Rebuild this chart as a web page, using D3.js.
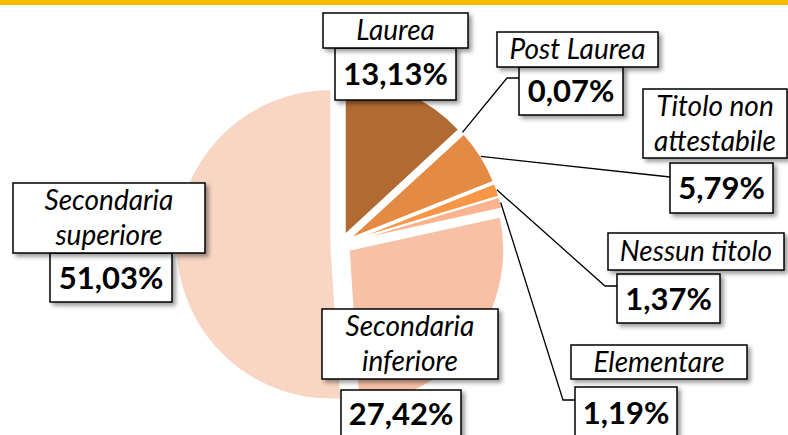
<!DOCTYPE html>
<html>
<head>
<meta charset="utf-8">
<script src="https://cdn.jsdelivr.net/npm/d3@7"></script>
<style>
  body { margin: 0; background: #fff; }
  svg { display: block; font-family: Lato, "Open Sans", sans-serif; }
</style>
</head>
<body>
<div id="chart"></div>
<script>
// data
var categories = ["Laurea", "Post Laurea", "Titolo non attestabile", "Nessun titolo",
                  "Elementare", "Secondaria inferiore", "Secondaria superiore"];
var values = [13.13, 0.07, 5.79, 1.37, 1.19, 27.42, 51.03];
var labelLines = [["Laurea"], ["Post Laurea"], ["Titolo non", "attestabile"], ["Nessun titolo"],
                  ["Elementare"], ["Secondaria", "inferiore"], ["Secondaria", "superiore"]];

var palette = ["#B06A32", "#C8783A", "#E38A44", "#F79646", "#F9B48F", "#F8C1A6", "#F9D5C3"];

// label layout: [x0, y0, x1, y1] boxes and leader waypoints
var labelLayout = [
  {name: [323, 13, 468, 48],  pct: [335, 48, 456, 100]},
  {name: [497, 32, 658, 67],  pct: [519, 67, 623, 115], leader: [[507, 78], [519, 78]]},
  {name: [643, 89, 787, 158], pct: [670, 163, 773, 213], leader: [[670, 177]]},
  {name: [608, 233, 784, 270], pct: [617, 274, 720, 323], leader: [[605, 286], [617, 286]]},
  {name: [571, 345, 747, 379], pct: [575, 387, 677, 442], leader: [[563, 400], [575, 400]],
   pctY: 424},
  {name: [322, 309, 498, 379], pct: [341, 390, 461, 447], pctY: 425},
  {name: [13, 183, 205, 253], pct: [50, 253, 172, 302]}
];

var width = 788, height = 435;
var cx = 341, cy = 244, radius = 155, explode = 10;

var svg = d3.select("#chart")
  .append("svg")
    .attr("width", width)
    .attr("height", height);

var defs = svg.append("defs");
defs.append("filter")
    .attr("id", "shadow")
    .attr("x", "-10%").attr("y", "-10%")
    .attr("width", "130%").attr("height", "140%")
  .append("feDropShadow")
    .attr("dx", 3).attr("dy", 3)
    .attr("stdDeviation", 2)
    .attr("flood-color", "#000")
    .attr("flood-opacity", 0.4);

// top bar
svg.append("rect")
    .attr("x", 0).attr("y", 0)
    .attr("width", width).attr("height", 5)
    .attr("fill", "#F8BC00");

var color = d3.scaleOrdinal().domain(categories).range(palette);

var pie = d3.pie().sort(null).value(function(d, i) { return values[i]; });
var arcs = pie(categories);

var arc = d3.arc().innerRadius(0).outerRadius(radius);

function dir(d) {
  var a = (d.startAngle + d.endAngle) / 2;
  return [Math.sin(a), -Math.cos(a)];
}

var g = svg.append("g")
    .attr("transform", "translate(" + cx + "," + cy + ")");

g.selectAll("path")
  .data(arcs)
  .enter()
  .append("path")
    .attr("transform", function(d) {
      var v = dir(d);
      return "translate(" + (v[0] * explode) + "," + (v[1] * explode) + ")";
    })
    .attr("d", arc)
    .attr("fill", function(d) { return color(d.data); })
    .attr("stroke", "#fff")
    .attr("stroke-width", 1.5);

// leader lines
var line = d3.line();
arcs.forEach(function(d, i) {
  var lay = labelLayout[i];
  if (!lay.leader) return;
  var v = dir(d);
  var start = [cx + v[0] * (radius + explode), cy + v[1] * (radius + explode)];
  svg.append("path")
      .attr("d", line([start].concat(lay.leader)))
      .attr("fill", "none")
      .attr("stroke", "#000")
      .attr("stroke-width", 1.3);
});

var locale = d3.formatLocale({decimal: ",", thousands: ".", grouping: [3], currency: ["", "€"]});
var fmt = locale.format(".2f");

var nameSize = 28, pctSize = 31, lineH = 35;

function box(b) {
  svg.append("rect")
      .attr("x", b[0]).attr("y", b[1])
      .attr("width", b[2] - b[0]).attr("height", b[3] - b[1])
      .attr("fill", "#fff")
      .attr("stroke", "#000")
      .attr("stroke-width", 1.5)
      .attr("filter", "url(#shadow)");
}

labelLayout.forEach(function(lay, i) {
  // percentage box
  box(lay.pct);
  var p = lay.pct;
  svg.append("text")
      .attr("x", (p[0] + p[2]) / 2)
      .attr("y", lay.pctY || (p[1] + p[3]) / 2 + pctSize * 0.36)
      .attr("text-anchor", "middle")
      .attr("font-weight", "bold")
      .attr("font-size", pctSize)
      .attr("fill", "#000")
      .text(fmt(values[i]) + "%");

  // category name box
  box(lay.name);
  var n = lay.name, lines = labelLines[i];
  var mid = (n[1] + n[3]) / 2;
  var y0 = mid - (lines.length - 1) * lineH / 2 + nameSize * 0.34;
  lines.forEach(function(t, k) {
    svg.append("text")
        .attr("x", (n[0] + n[2]) / 2)
        .attr("y", y0 + k * lineH)
        .attr("text-anchor", "middle")
        .attr("font-style", "italic")
        .attr("font-size", nameSize)
        .attr("fill", "#000")
        .text(t);
  });
});
</script>
</body>
</html>
